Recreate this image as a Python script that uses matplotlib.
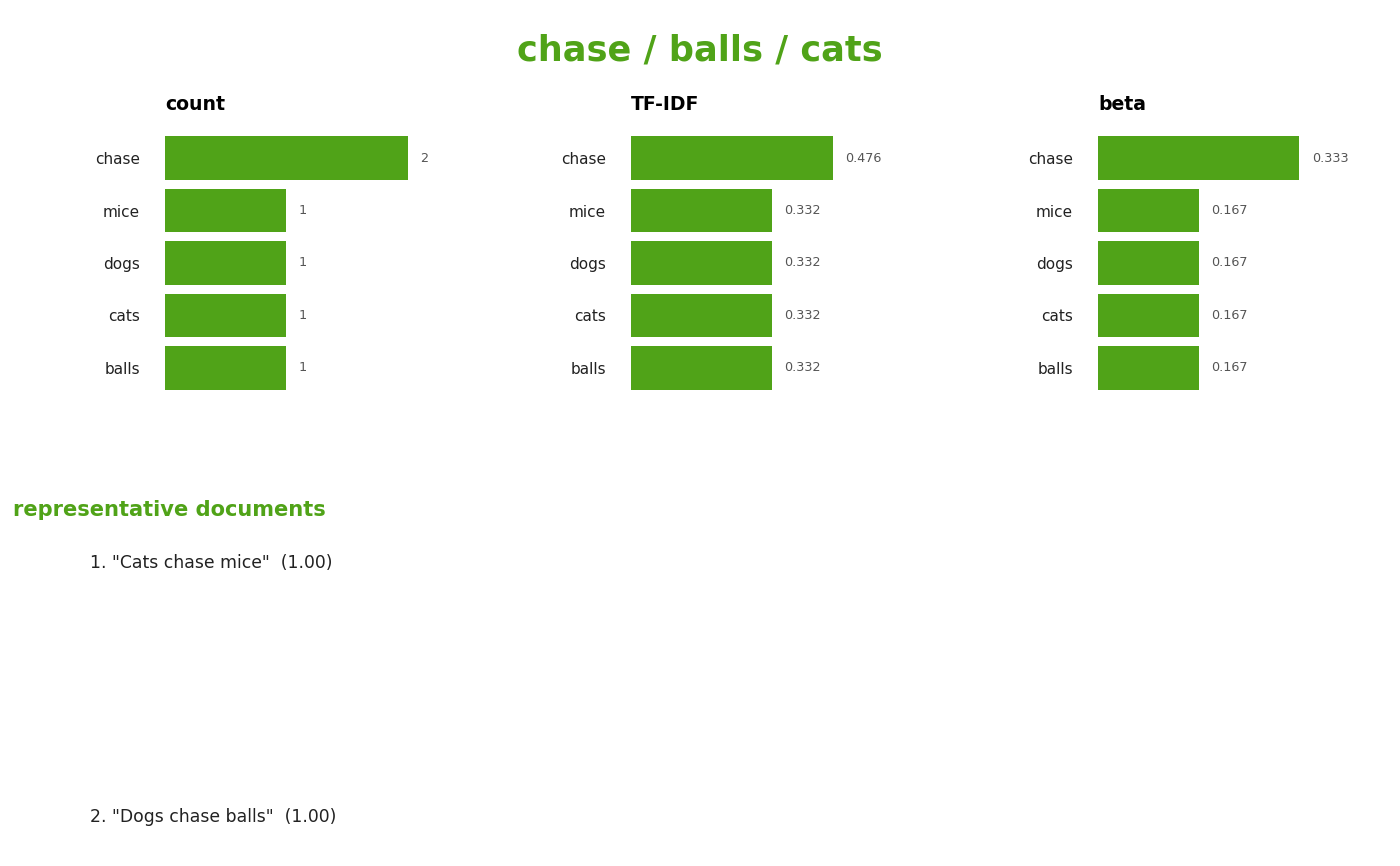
import matplotlib.pyplot as plt

plt.rcParams['font.family'] = ['DejaVu Sans']

# data
title = 'chase / balls / cats'
words = ['chase', 'mice', 'dogs', 'cats', 'balls']
count = [2, 1, 1, 1, 1]
tfidf = [0.476, 0.332, 0.332, 0.332, 0.332]
beta = [0.333, 0.167, 0.167, 0.167, 0.167]
count_labels = ['2', '1', '1', '1', '1']
tfidf_labels = ['0.476', '0.332', '0.332', '0.332', '0.332']
beta_labels = ['0.333', '0.167', '0.167', '0.167', '0.167']
docs = ['"Cats chase mice"', '"Dogs chase balls"']
doc_scores = [1.00, 1.00]

green = '#50A318'
W, H = 1400, 866

fig = plt.figure(figsize=(14, 8.66), dpi=100)
fig.text(0.5, 1 - 50 / H, title, ha='center', va='center',
         fontsize=25.3, fontweight='bold', color=green)

panels = [('count', count, count_labels, 165, 2.387),
          ('TF-IDF', tfidf, tfidf_labels, 631, 0.683),
          ('beta', beta, beta_labels, 1098, 0.480)]

for name, vals, labels, x0, xmax in panels:
    ax = fig.add_axes([x0 / W, 1 - 394 / H, 290 / W, 262 / H])
    ypos = list(range(len(words)))
    ax.barh(ypos, vals, height=0.83, color=green)
    ax.set_xlim(0, xmax)
    ax.set_ylim(len(words) - 0.5, -0.5)
    ax.set_yticks(ypos)
    ax.set_yticklabels(words, fontsize=11, color='#222222')
    ax.tick_params(axis='y', length=0, pad=18)
    ax.set_xticks([])
    for s in ax.spines.values():
        s.set_visible(False)
    for y, v, lab in zip(ypos, vals, labels):
        ax.annotate(lab, (v, y), xytext=(9, 0), textcoords='offset points',
                    ha='left', va='center', fontsize=9.2, color='#555555')
    ax.set_title(name, loc='left', fontsize=13.6, fontweight='bold', pad=15.5)

fig.text(13 / W, 1 - 510 / H, 'representative documents', ha='left', va='center',
         fontsize=15.1, fontweight='bold', color=green)

doc_y = [563, 817]
for i, (d, sc) in enumerate(zip(docs, doc_scores)):
    fig.text(90 / W, 1 - doc_y[i] / H, f'{i + 1}. {d}  ({sc:.2f})',
             ha='left', va='center', fontsize=12.4, color='#222222')

fig.savefig('out.png', dpi=100)
